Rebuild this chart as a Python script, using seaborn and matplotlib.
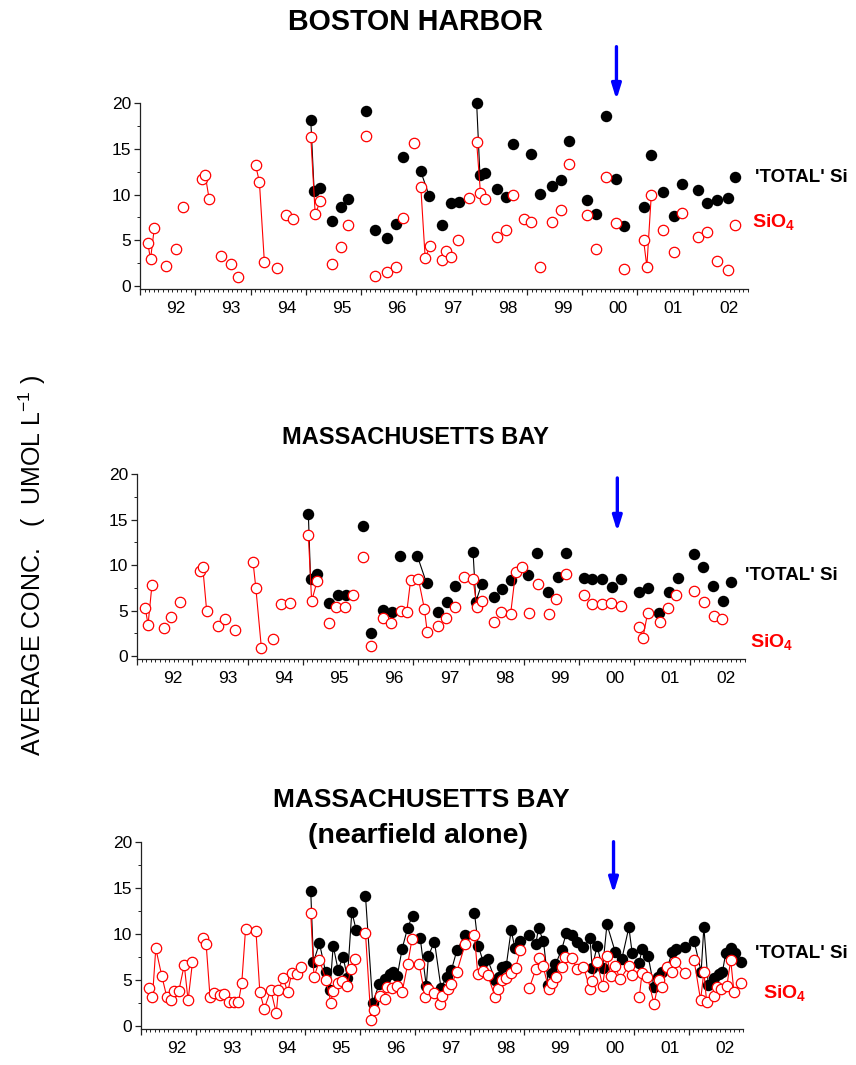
import numpy as np
import pandas as pd
import matplotlib
matplotlib.use("Agg")
import matplotlib.pyplot as plt
import matplotlib.transforms as mtransforms
from matplotlib.ticker import MultipleLocator
import seaborn as sns

sns.set_style("ticks")
plt.rcParams["font.family"] = ["Liberation Sans", "DejaVu Sans"]
plt.rcParams["mathtext.fontset"] = "custom"
plt.rcParams["mathtext.rm"] = "Liberation Sans"
plt.rcParams["mathtext.bf"] = "Liberation Sans:bold"
plt.rcParams["text.color"] = "black"
plt.rcParams["axes.labelcolor"] = "black"
plt.rcParams["xtick.color"] = "black"
plt.rcParams["ytick.color"] = "black"

# ---------------- data ----------------
year_ticks = list(range(1992, 2003))
year_labels = ["92", "93", "94", "95", "96", "97", "98", "99", "00", "01", "02"]

# Panel 1: Boston Harbor
bh_si_year = [1992.14, 1992.19, 1992.26, 1992.47, 1992.65, 1992.78, 1993.13, 1993.18, 1993.25, 1993.47,
              1993.64, 1993.78, 1994.09, 1994.16, 1994.25, 1994.47, 1994.64, 1994.77, 1995.09, 1995.17,
              1995.26, 1995.47, 1995.64, 1995.77, 1996.09, 1996.25, 1996.46, 1996.63, 1996.76, 1996.96,
              1997.08, 1997.16, 1997.25, 1997.46, 1997.54, 1997.63, 1997.76, 1997.95, 1998.09, 1998.16,
              1998.25, 1998.45, 1998.62, 1998.75, 1998.95, 1999.08, 1999.24, 1999.45, 1999.62, 1999.77,
              2000.09, 2000.25, 2000.43, 2000.62, 2000.76, 2001.11, 2001.17, 2001.25, 2001.47, 2001.66,
              2001.81, 2002.09, 2002.25, 2002.44, 2002.63, 2002.77]
bh_si_val = [4.74, 2.92, 6.39, 2.19, 4.05, 8.69, 11.68, 12.15, 9.56, 3.28,
             2.41, 0.95, 13.25, 11.42, 2.63, 2.00, 7.77, 7.30, 16.28, 7.85,
             9.27, 2.45, 4.23, 6.68, 16.39, 1.09, 1.53, 2.12, 7.41, 15.69,
             10.88, 3.03, 4.42, 2.85, 3.83, 3.18, 5.00, 9.67, 15.80, 10.15,
             9.53, 5.36, 6.13, 9.93, 7.37, 7.04, 2.08, 7.04, 8.36, 13.36,
             7.74, 4.09, 11.93, 6.90, 1.90, 5.04, 2.12, 9.96, 6.10, 3.76,
             7.99, 5.36, 5.88, 2.77, 1.75, 6.64]
bh_si_link = [0, 1, 1, 0, 0, 0, 0, 1, 1, 0,
              0, 0, 0, 1, 1, 0, 0, 0, 0, 1,
              1, 0, 0, 0, 0, 0, 0, 0, 0, 0,
              0, 1, 1, 0, 0, 0, 0, 0, 0, 1,
              1, 0, 0, 0, 0, 0, 0, 0, 0, 0,
              0, 0, 0, 0, 0, 0, 1, 1, 0, 0,
              0, 0, 0, 0, 0, 0]
bh_tot_year = [1995.09, 1995.15, 1995.26, 1995.47, 1995.63, 1995.77, 1996.09, 1996.25, 1996.46, 1996.63,
               1996.76, 1997.08, 1997.23, 1997.46, 1997.63, 1997.77, 1998.09, 1998.15, 1998.25, 1998.45,
               1998.62, 1998.75, 1999.07, 1999.24, 1999.45, 1999.62, 1999.77, 2000.09, 2000.25, 2000.43,
               2000.62, 2000.76, 2001.11, 2001.25, 2001.47, 2001.66, 2001.81, 2002.09, 2002.25, 2002.44,
               2002.63, 2002.77]
bh_tot_val = [18.14, 10.44, 10.69, 7.12, 8.61, 9.56, 19.12, 6.17, 5.26, 6.82,
              14.16, 12.55, 9.89, 6.64, 9.12, 9.23, 20.07, 12.19, 12.41, 10.66,
              9.71, 15.55, 14.45, 10.07, 10.95, 11.57, 15.88, 9.42, 7.85, 18.65,
              11.68, 6.57, 8.69, 14.38, 10.33, 7.66, 11.20, 10.47, 9.12, 9.42,
              9.67, 11.97]
bh_tot_link = [0, 1, 1, 0, 0, 0, 0, 0, 0, 0,
               0, 0, 1, 0, 0, 0, 0, 1, 1, 0,
               0, 0, 0, 0, 0, 0, 0, 0, 0, 0,
               0, 0, 0, 0, 0, 0, 0, 0, 0, 0,
               0, 0]

# Panel 2: Massachusetts Bay
mb_si_year = [1992.15, 1992.20, 1992.27, 1992.48, 1992.61, 1992.78, 1993.14, 1993.19, 1993.26, 1993.47,
              1993.60, 1993.77, 1994.10, 1994.15, 1994.25, 1994.46, 1994.60, 1994.77, 1995.10, 1995.16,
              1995.26, 1995.47, 1995.60, 1995.77, 1995.91, 1996.09, 1996.24, 1996.45, 1996.59, 1996.77,
              1996.88, 1996.95, 1997.09, 1997.20, 1997.25, 1997.45, 1997.59, 1997.76, 1997.91, 1998.08,
              1998.15, 1998.24, 1998.45, 1998.59, 1998.76, 1998.85, 1998.96, 1999.09, 1999.26, 1999.45,
              1999.58, 1999.76, 2000.08, 2000.24, 2000.42, 2000.57, 2000.75, 2001.09, 2001.15, 2001.24,
              2001.46, 2001.60, 2001.76, 2002.08, 2002.26, 2002.44, 2002.59]
mb_si_val = [5.25, 3.45, 7.78, 3.12, 4.29, 5.91, 9.36, 9.76, 4.99, 3.34,
             4.07, 2.90, 10.31, 7.49, 0.92, 1.87, 5.76, 5.83, 13.28, 6.06,
             8.26, 3.67, 5.43, 5.43, 6.72, 10.90, 1.14, 4.15, 3.67, 4.95,
             4.81, 8.33, 8.51, 5.17, 2.68, 3.34, 4.22, 5.39, 8.70, 8.44,
             5.43, 6.02, 3.71, 4.81, 4.66, 9.28, 9.76, 4.70, 7.93, 4.62,
             6.24, 9.03, 6.72, 5.69, 5.72, 5.87, 5.50, 3.16, 1.94, 4.77,
             3.78, 5.25, 6.72, 7.16, 5.94, 4.40, 4.07]
mb_si_link = [0, 1, 1, 0, 0, 0, 0, 1, 1, 0,
              0, 0, 0, 1, 1, 0, 0, 0, 0, 1,
              1, 0, 0, 0, 0, 0, 0, 0, 0, 0,
              0, 1, 0, 1, 1, 0, 0, 0, 0, 0,
              1, 1, 0, 0, 0, 1, 0, 0, 0, 0,
              0, 0, 0, 0, 0, 0, 0, 0, 1, 1,
              0, 0, 0, 0, 0, 0, 0]
mb_tot_year = [1995.10, 1995.14, 1995.25, 1995.47, 1995.63, 1995.78, 1996.08, 1996.24, 1996.45, 1996.62,
               1996.76, 1997.07, 1997.24, 1997.45, 1997.61, 1997.76, 1998.08, 1998.13, 1998.24, 1998.45,
               1998.61, 1998.76, 1999.08, 1999.24, 1999.44, 1999.61, 1999.76, 2000.08, 2000.24, 2000.42,
               2000.60, 2000.75, 2001.08, 2001.24, 2001.44, 2001.62, 2001.79, 2002.08, 2002.24, 2002.42,
               2002.61, 2002.75]
mb_tot_val = [15.63, 8.48, 9.03, 5.80, 6.75, 6.75, 14.31, 2.53, 5.10, 4.88,
              11.05, 11.05, 8.00, 4.81, 5.91, 7.74, 11.45, 5.98, 7.96, 6.53,
              7.41, 8.37, 8.92, 11.30, 7.01, 8.66, 11.30, 8.55, 8.44, 8.44,
              7.63, 8.48, 7.01, 7.45, 4.70, 7.01, 8.62, 11.19, 9.76, 7.71,
              6.06, 8.15]
mb_tot_link = [0, 1, 1, 0, 0, 0, 0, 0, 0, 0,
               0, 0, 1, 0, 0, 0, 0, 1, 1, 0,
               0, 0, 0, 0, 0, 0, 0, 0, 0, 0,
               0, 0, 0, 0, 0, 0, 0, 0, 0, 0,
               0, 0]

# Panel 3: Massachusetts Bay (nearfield alone)
nf_si_year = [1992.14, 1992.21, 1992.27, 1992.38, 1992.47, 1992.54, 1992.61, 1992.69, 1992.79, 1992.86,
              1992.94, 1993.14, 1993.19, 1993.26, 1993.33, 1993.44, 1993.52, 1993.60, 1993.69, 1993.78,
              1993.84, 1993.91, 1994.10, 1994.17, 1994.25, 1994.37, 1994.47, 1994.51, 1994.60, 1994.68,
              1994.75, 1994.84, 1994.92, 1995.10, 1995.16, 1995.26, 1995.38, 1995.47, 1995.50, 1995.59,
              1995.68, 1995.77, 1995.83, 1995.91, 1996.10, 1996.20, 1996.26, 1996.36, 1996.46, 1996.49,
              1996.58, 1996.67, 1996.77, 1996.87, 1996.95, 1997.08, 1997.19, 1997.25, 1997.35, 1997.46,
              1997.49, 1997.60, 1997.67, 1997.77, 1997.92, 1998.09, 1998.15, 1998.24, 1998.33, 1998.47,
              1998.52, 1998.59, 1998.67, 1998.75, 1998.84, 1998.93, 1999.09, 1999.21, 1999.27, 1999.34,
              1999.45, 1999.51, 1999.58, 1999.68, 1999.75, 1999.88, 1999.96, 2000.08, 2000.20, 2000.24,
              2000.33, 2000.43, 2000.51, 2000.58, 2000.66, 2000.75, 2000.91, 2000.96, 2001.10, 2001.15,
              2001.25, 2001.37, 2001.46, 2001.52, 2001.60, 2001.70, 2001.76, 2001.94, 2002.10, 2002.22,
              2002.28, 2002.33, 2002.46, 2002.52, 2002.60, 2002.70, 2002.77, 2002.83, 2002.95]
nf_si_val = [4.16, 3.18, 8.42, 5.42, 3.18, 2.78, 3.80, 3.80, 6.62, 2.78,
             6.91, 9.51, 8.86, 3.18, 3.54, 3.36, 3.47, 2.64, 2.64, 2.60,
             4.63, 10.56, 10.27, 3.72, 1.84, 3.90, 1.41, 3.90, 5.17, 3.65,
             5.71, 5.60, 6.44, 12.22, 5.28, 7.16, 4.99, 2.46, 3.83, 4.63,
             4.92, 4.37, 6.22, 7.23, 10.05, 0.65, 1.74, 3.25, 2.89, 4.27,
             4.09, 4.37, 3.72, 6.69, 9.44, 6.72, 3.18, 4.01, 3.54, 2.39,
             3.25, 3.98, 4.52, 5.89, 8.89, 9.87, 5.64, 6.00, 5.57, 3.11,
             4.01, 4.99, 5.17, 5.71, 6.33, 8.20, 4.09, 6.15, 7.34, 6.54,
             3.98, 4.70, 5.35, 6.36, 7.52, 7.34, 6.15, 6.44, 4.01, 4.92,
             6.98, 4.37, 7.59, 5.42, 6.51, 5.06, 6.51, 5.53, 3.11, 5.71,
             5.35, 2.39, 4.99, 4.19, 6.36, 5.89, 6.98, 5.71, 7.16, 2.82,
             5.89, 2.64, 3.29, 4.27, 4.01, 4.37, 7.16, 3.65, 4.63]
nf_tot_year = [1995.10, 1995.15, 1995.26, 1995.37, 1995.45, 1995.51, 1995.60, 1995.69, 1995.77, 1995.85,
               1995.93, 1996.10, 1996.23, 1996.35, 1996.46, 1996.55, 1996.60, 1996.68, 1996.77, 1996.87,
               1996.96, 1997.10, 1997.21, 1997.25, 1997.36, 1997.48, 1997.58, 1997.67, 1997.77, 1997.92,
               1998.09, 1998.16, 1998.25, 1998.33, 1998.47, 1998.53, 1998.59, 1998.67, 1998.76, 1998.83,
               1998.93, 1999.09, 1999.21, 1999.26, 1999.35, 1999.44, 1999.50, 1999.57, 1999.68, 1999.77,
               1999.88, 1999.96, 2000.08, 2000.20, 2000.24, 2000.33, 2000.43, 2000.51, 2000.66, 2000.78,
               2000.91, 2000.97, 2001.10, 2001.15, 2001.26, 2001.37, 2001.45, 2001.52, 2001.62, 2001.70,
               2001.78, 2001.94, 2002.10, 2002.23, 2002.28, 2002.36, 2002.46, 2002.56, 2002.62, 2002.68,
               2002.78, 2002.85, 2002.95]
nf_tot_val = [14.64, 6.98, 8.97, 5.89, 3.87, 8.71, 6.07, 7.52, 5.24, 12.40,
              10.41, 14.10, 2.53, 4.52, 5.13, 5.64, 5.86, 5.42, 8.39, 10.67,
              11.97, 9.51, 4.34, 7.63, 9.15, 4.09, 5.35, 6.07, 8.24, 9.87,
              12.29, 8.68, 6.98, 7.23, 4.99, 5.35, 6.44, 6.51, 10.41, 8.42,
              9.20, 9.87, 8.89, 10.59, 9.22, 4.45, 5.71, 6.69, 8.24, 10.12,
              9.87, 9.15, 8.53, 9.51, 6.33, 8.68, 6.25, 11.03, 8.06, 7.23,
              10.70, 7.95, 6.87, 8.32, 7.63, 4.19, 5.28, 5.89, 6.44, 8.03,
              8.32, 8.53, 9.26, 5.89, 10.77, 4.45, 5.17, 5.64, 5.89, 7.95,
              8.50, 7.88, 6.98]

panel_titles = ["BOSTON HARBOR", "MASSACHUSETTS BAY", "MASSACHUSETTS BAY\n(nearfield alone)"]
total_label = "'TOTAL' Si"
sio4_label = r"$\mathbf{SiO_4}$"
y_label = "AVERAGE CONC.   (  UMOL L$^{-1}$ )"
outfall_year = [2000.62, 2000.69, 2000.63]

# ---------------- figure ----------------
W, H = 856, 1065
fig = plt.figure(figsize=(W / 100, H / 100), dpi=100)


def px_axes(left, right, top, bottom):
    return fig.add_axes([left / W, 1 - bottom / H, (right - left) / W, (bottom - top) / H])


axes = [
    px_axes(140, 748, 103.3, 289.2),
    px_axes(137, 745, 474.3, 659.2),
    px_axes(141, 743.3, 841.7, 1029.2),
]


def draw(ax, t_year, t_val, t_grp, s_year, s_val, s_grp):
    dt = pd.DataFrame({"year": t_year, "val": t_val, "grp": t_grp})
    ds = pd.DataFrame({"year": s_year, "val": s_val, "grp": s_grp})
    sns.lineplot(data=dt, x="year", y="val", units="grp", estimator=None, sort=False,
                 color="black", lw=0.8, ax=ax, zorder=2, legend=False)
    sns.scatterplot(data=dt, x="year", y="val", color="black", s=68, linewidth=0,
                    ax=ax, zorder=3, clip_on=False, legend=False)
    sns.lineplot(data=ds, x="year", y="val", units="grp", estimator=None, sort=False,
                 color="red", lw=0.8, ax=ax, zorder=4, legend=False)
    sns.scatterplot(data=ds, x="year", y="val", color="white", edgecolor="red", s=56,
                    linewidth=0.9, ax=ax, zorder=5, clip_on=False, legend=False)


def groups_from_links(links):
    return list(np.cumsum(1 - np.array(links)))


draw(axes[0], bh_tot_year, bh_tot_val, groups_from_links(bh_tot_link),
     bh_si_year, bh_si_val, groups_from_links(bh_si_link))
draw(axes[1], mb_tot_year, mb_tot_val, groups_from_links(mb_tot_link),
     mb_si_year, mb_si_val, groups_from_links(mb_si_link))
draw(axes[2], nf_tot_year, nf_tot_val, list(np.floor(nf_tot_year)),
     nf_si_year, nf_si_val, list(np.floor(nf_si_year)))

label_shift = mtransforms.ScaledTranslation(0.36, 0, fig.dpi_scale_trans)
for i, ax in enumerate(axes):
    ax.set_xlim(1992, 2003)
    ax.set_ylim(-0.35, 20)
    ax.set_xticks(year_ticks)
    ax.set_xticklabels(year_labels)
    ax.xaxis.set_minor_locator(MultipleLocator(1 / 12))
    ax.set_yticks([0, 5, 10, 15, 20])
    ax.yaxis.set_minor_locator(MultipleLocator(2.5))
    ax.set_xlabel("")
    ax.set_ylabel("")
    sns.despine(ax=ax)
    for sp in ("left", "bottom"):
        ax.spines[sp].set_linewidth(0.9)
        ax.spines[sp].set_color("#222222")
    ax.tick_params(axis="both", which="major", direction="out", length=4.5, width=0.9,
                   labelsize=12.5, color="#222222", labelcolor="black")
    ax.tick_params(axis="both", which="minor", direction="out", length=2.5, width=0.7,
                   color="#222222")
    ax.tick_params(axis="x", which="major", pad=4)
    ax.tick_params(axis="y", which="major", pad=2)
    for lab in ax.get_xticklabels():
        lab.set_transform(lab.get_transform() + label_shift)
    # outfall arrow
    ytop = [26.2, 19.6, 20.0][i]
    ytip = [20.4, 13.7, 14.4][i]
    ax.annotate("", xy=(outfall_year[i], ytip), xytext=(outfall_year[i], ytop),
                arrowprops=dict(arrowstyle="-|>,head_width=0.28,head_length=0.9",
                                color="blue", lw=2.4, shrinkA=0, shrinkB=0),
                annotation_clip=False)

# titles
fig.text(415 / W, 1 - 22 / H, panel_titles[0], ha="center", va="center",
         fontsize=20.6, fontweight="bold")
fig.text(415 / W, 1 - 438 / H, panel_titles[1], ha="center", va="center",
         fontsize=17, fontweight="bold")
t3a, t3b = panel_titles[2].split("\n")
fig.text(421 / W, 1 - 800 / H, t3a, ha="center", va="center", fontsize=18.9, fontweight="bold")
fig.text(418 / W, 1 - 836 / H, t3b, ha="center", va="center", fontsize=20.5, fontweight="bold")

# series labels
for (tx, ty, sx, sy) in [(755, 177, 752, 222), (745, 576, 750, 642), (755, 953, 763, 993)]:
    fig.text(tx / W, 1 - ty / H, total_label, ha="left", va="center", fontsize=13.5,
             fontweight="bold", color="black")
    fig.text(sx / W, 1 - sy / H, sio4_label, ha="left", va="center", fontsize=14,
             color="red")

fig.text(32 / W, 1 - 565 / H, y_label, rotation=90, ha="center", va="center", fontsize=18)

fig.savefig("out.png", dpi=100)
